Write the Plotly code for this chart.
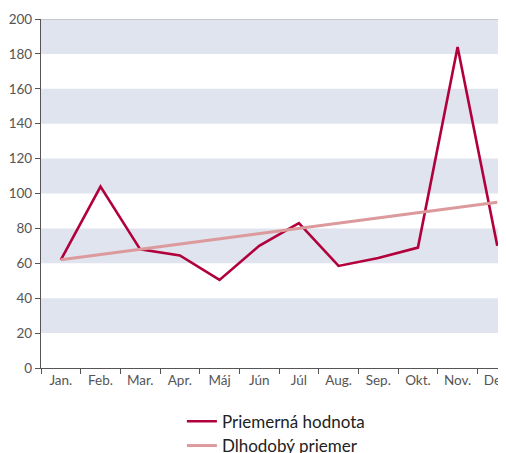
import plotly.graph_objects as go

months = ["Jan.", "Feb.", "Mar.", "Apr.", "Máj", "Jún", "Júl", "Aug.", "Sep.", "Okt.", "Nov.", "Dec."]
priemerna = [62, 104, 68, 64.5, 50.5, 70, 83, 58.5, 63, 69, 184, 70]
dlhodoby = [62, 65, 68, 71, 74, 77, 80, 83, 86, 89, 92, 95]
y_ticks = [0, 20, 40, 60, 80, 100, 120, 140, 160, 180, 200]
bands = [(20, 40), (60, 80), (100, 120), (140, 160), (180, 200)]

FONT = "Lato"

fig = go.Figure()
fig.add_trace(go.Scatter(x=months, y=priemerna, mode="lines", name="Priemerná hodnota",
                         line=dict(color="#b1003b", width=2.6), legend="legend"))
fig.add_trace(go.Scatter(x=months, y=dlhodoby, mode="lines", name="Dlhodobý priemer",
                         line=dict(color="#dc9a9c", width=3), legend="legend2"))

shapes = []
for lo, hi in bands:
    shapes.append(dict(type="rect", xref="paper", yref="y", x0=0, x1=1, y0=lo, y1=hi,
                       fillcolor="#dfe4ee", line=dict(width=0), layer="below"))
shapes.append(dict(type="line", xref="paper", yref="y", x0=0, x1=1, y0=200, y1=200,
                   line=dict(color="#a9a9a9", width=1.2), layer="above"))

legend_common = dict(orientation="v", xanchor="left", yanchor="middle",
                     font=dict(size=17, color="#222222"), itemwidth=30,
                     bgcolor="rgba(0,0,0,0)")

fig.update_layout(
    width=498, height=445,
    margin=dict(l=33, r=0, t=11, b=85, autoexpand=False),
    paper_bgcolor="white", plot_bgcolor="white",
    font=dict(family=FONT, color="#555555", size=13),
    shapes=shapes,
    showlegend=True,
    legend=dict(x=0.303, y=-0.154, **legend_common),
    legend2=dict(x=0.303, y=-0.2235, **legend_common),
    xaxis=dict(type="category", range=[-0.5, 11.22], tickson="boundaries",
               ticks="outside", ticklen=5, tickcolor="#555555",
               showline=True, linecolor="#555555", linewidth=1.2,
               showgrid=False, zeroline=False,
               tickfont=dict(size=13.5, color="#555555")),
    yaxis=dict(range=[0, 200], tickvals=y_ticks, ticks="outside", ticklen=5,
               tickcolor="#555555", showline=True, linecolor="#555555", linewidth=1.2,
               showgrid=False, zeroline=False,
               tickfont=dict(size=13.5, color="#555555")),
)

fig.write_html("out.html")
